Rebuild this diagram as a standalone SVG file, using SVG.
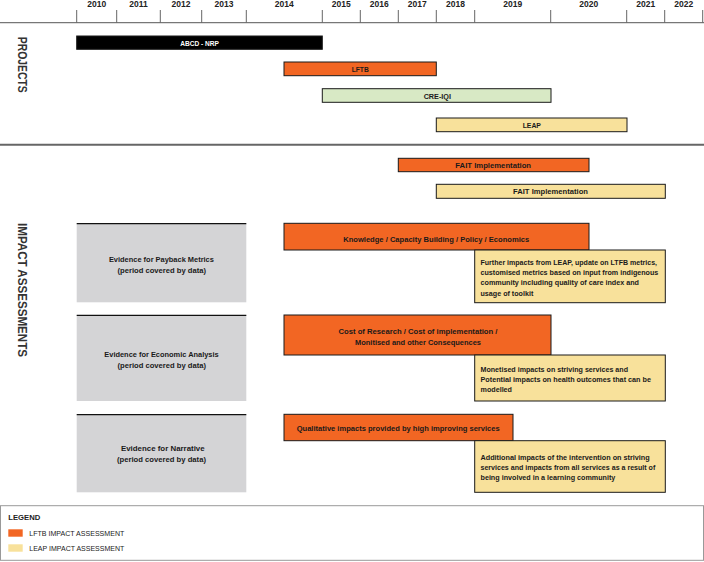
<svg xmlns="http://www.w3.org/2000/svg" width="704" height="562" viewBox="0 0 704 562">
<style>
text{font-family:"Liberation Sans",Arial,sans-serif;}
.yr{font-size:8.5px;font-weight:bold;fill:#222;text-anchor:middle;}
.tick{stroke:#666;stroke-width:1;}
.bar{stroke:#1a1a1a;stroke-width:1;}
.or{fill:#F26623;}
.ye{fill:#F8E19B;}
.gr{fill:#D8E9C5;}
.bk{fill:#000;}
.gy{fill:#D4D4D6;}
.bt{font-size:8px;font-weight:bold;fill:#1a1a1a;}
.c{text-anchor:middle;}
.side{font-size:13.5px;font-weight:bold;fill:#333;text-anchor:middle;}
.lg{font-size:7.3px;fill:#222;}
</style>
<rect x="0" y="0" width="704" height="562" fill="#fff"/>
<g id="axis">
<line x1="0" y1="22.7" x2="704" y2="22.7" stroke="#777" stroke-width="1.3"/>
<line class="tick" x1="76.7" y1="10" x2="76.7" y2="22.7"/>
<line class="tick" x1="116.7" y1="10" x2="116.7" y2="22.7"/>
<line class="tick" x1="160.3" y1="10" x2="160.3" y2="22.7"/>
<line class="tick" x1="201.7" y1="10" x2="201.7" y2="22.7"/>
<line class="tick" x1="246.3" y1="10" x2="246.3" y2="22.7"/>
<line class="tick" x1="322.3" y1="10" x2="322.3" y2="22.7"/>
<line class="tick" x1="360.3" y1="10" x2="360.3" y2="22.7"/>
<line class="tick" x1="398.3" y1="10" x2="398.3" y2="22.7"/>
<line class="tick" x1="436.3" y1="10" x2="436.3" y2="22.7"/>
<line class="tick" x1="474.7" y1="10" x2="474.7" y2="22.7"/>
<line class="tick" x1="550.7" y1="10" x2="550.7" y2="22.7"/>
<line class="tick" x1="626.7" y1="10" x2="626.7" y2="22.7"/>
<line class="tick" x1="664.7" y1="10" x2="664.7" y2="22.7"/>
<line class="tick" x1="702.7" y1="10" x2="702.7" y2="22.7"/>
<text class="yr" x="96.7" y="7">2010</text>
<text class="yr" x="138.5" y="7">2011</text>
<text class="yr" x="181" y="7">2012</text>
<text class="yr" x="224" y="7">2013</text>
<text class="yr" x="284.3" y="7">2014</text>
<text class="yr" x="341.3" y="7">2015</text>
<text class="yr" x="379.3" y="7">2016</text>
<text class="yr" x="417.3" y="7">2017</text>
<text class="yr" x="455.5" y="7">2018</text>
<text class="yr" x="512.7" y="7">2019</text>
<text class="yr" x="588.7" y="7">2020</text>
<text class="yr" x="645.7" y="7">2021</text>
<text class="yr" x="683.7" y="7">2022</text>
</g>
<line x1="0" y1="144.7" x2="704" y2="144.7" stroke="#666" stroke-width="2"/>
<g id="label-projects">
<text class="side" transform="translate(23,64.7) rotate(90)" x="0" y="4.8" textLength="56" lengthAdjust="spacingAndGlyphs">PROJECTS</text>
</g>
<g id="label-impact">
<text class="side" transform="translate(23,290) rotate(90)" x="0" y="4.8" textLength="134" lengthAdjust="spacingAndGlyphs">IMPACT ASSESSMENTS</text>
</g>
<g id="abcd-nrp">
<rect class="bar bk" x="76.7" y="36" width="245.6" height="13.3"/>
<text class="bt c" x="199.6" y="45.6" style="fill:#fff" textLength="38.7" lengthAdjust="spacingAndGlyphs">ABCD - NRP</text>
</g>
<g id="lftb">
<rect class="bar or" x="284" y="62" width="152.3" height="13.7"/>
<text class="bt c" x="360.2" y="71.8" textLength="17" lengthAdjust="spacingAndGlyphs">LFTB</text>
</g>
<g id="cre-iqi">
<rect class="bar gr" x="322.3" y="88.7" width="228.7" height="13.6"/>
<text class="bt c" x="437.3" y="98.5" textLength="27.3" lengthAdjust="spacingAndGlyphs">CRE-IQI</text>
</g>
<g id="leap">
<rect class="bar ye" x="436.3" y="118" width="190.7" height="13.7"/>
<text class="bt c" x="531.8" y="127.8" textLength="18.3" lengthAdjust="spacingAndGlyphs">LEAP</text>
</g>
<g id="fait-lftb">
<rect class="bar or" x="398.3" y="158.3" width="190.7" height="13.4"/>
<text class="bt c" x="493.2" y="168" textLength="75.7" lengthAdjust="spacingAndGlyphs">FAIT Implementation</text>
</g>
<g id="fait-leap">
<rect class="bar ye" x="436.3" y="184.3" width="229" height="14"/>
<text class="bt c" x="550.5" y="194.2" textLength="75" lengthAdjust="spacingAndGlyphs">FAIT Implementation</text>
</g>
<g id="evidence-payback">
<rect class="gy" x="76.7" y="223.3" width="169.6" height="79"/>
<line x1="76.7" y1="223.6" x2="246.3" y2="223.6" stroke="#111" stroke-width="1.2"/>
<text class="bt c" x="161.4" y="261.8" textLength="105" lengthAdjust="spacingAndGlyphs">Evidence for Payback Metrics</text>
<text class="bt c" x="161.8" y="272.8" textLength="88.5" lengthAdjust="spacingAndGlyphs">(period covered by data)</text>
</g>
<g id="evidence-economic">
<rect class="gy" x="76.7" y="315" width="169.6" height="86"/>
<line x1="76.7" y1="315.3" x2="246.3" y2="315.3" stroke="#111" stroke-width="1.2"/>
<text class="bt c" x="161.5" y="356.8" textLength="114.4" lengthAdjust="spacingAndGlyphs">Evidence for Economic Analysis</text>
<text class="bt c" x="161.8" y="368" textLength="88.5" lengthAdjust="spacingAndGlyphs">(period covered by data)</text>
</g>
<g id="evidence-narrative">
<rect class="gy" x="76.7" y="414.3" width="169.6" height="78"/>
<line x1="76.7" y1="414.6" x2="246.3" y2="414.6" stroke="#111" stroke-width="1.2"/>
<text class="bt c" x="162.8" y="450.5" textLength="83.7" lengthAdjust="spacingAndGlyphs">Evidence for Narrative</text>
<text class="bt c" x="161.5" y="461.8" textLength="89" lengthAdjust="spacingAndGlyphs">(period covered by data)</text>
</g>
<g id="lftb-payback">
<rect class="bar or" x="284" y="223.3" width="305" height="26.7"/>
<text class="bt c" x="436.2" y="241.6" textLength="186" lengthAdjust="spacingAndGlyphs">Knowledge / Capacity Building / Policy / Economics</text>
</g>
<g id="leap-payback">
<rect class="bar ye" x="474.7" y="250" width="190.6" height="52.7"/>
<text class="bt" x="480.5" y="264.6" textLength="176.5" lengthAdjust="spacingAndGlyphs">Further impacts from LEAP, update on LTFB metrics,</text>
<text class="bt" x="480.5" y="274.9" textLength="177.8" lengthAdjust="spacingAndGlyphs">customised metrics based on input from indigenous</text>
<text class="bt" x="480.5" y="285.2" textLength="158.5" lengthAdjust="spacingAndGlyphs">community including quality of care index and</text>
<text class="bt" x="480.5" y="295.6" textLength="52.8" lengthAdjust="spacingAndGlyphs">usage of toolkit</text>
</g>
<g id="lftb-economic">
<rect class="bar or" x="284" y="315" width="267" height="40"/>
<text class="bt c" x="418" y="333.6" textLength="159" lengthAdjust="spacingAndGlyphs">Cost of Research / Cost of implementation /</text>
<text class="bt c" x="418" y="344.6" textLength="126" lengthAdjust="spacingAndGlyphs">Monitised and other Consequences</text>
</g>
<g id="leap-economic">
<rect class="bar ye" x="474.7" y="355" width="190.6" height="46"/>
<text class="bt" x="480.5" y="371.9" textLength="147.5" lengthAdjust="spacingAndGlyphs">Monetised impacts on striving services and</text>
<text class="bt" x="480.5" y="382.1" textLength="170.5" lengthAdjust="spacingAndGlyphs">Potential impacts on health outcomes that can be</text>
<text class="bt" x="480.5" y="392.2" textLength="31.5" lengthAdjust="spacingAndGlyphs">modelled</text>
</g>
<g id="lftb-narrative">
<rect class="bar or" x="284" y="414.3" width="229" height="26.4"/>
<text class="bt c" x="398.2" y="431.2" textLength="203" lengthAdjust="spacingAndGlyphs">Qualitative impacts provided by high improving services</text>
</g>
<g id="leap-narrative">
<rect class="bar ye" x="474.7" y="440.7" width="190.6" height="51.6"/>
<text class="bt" x="480.5" y="459.6" textLength="169.2" lengthAdjust="spacingAndGlyphs">Additional impacts of the intervention on striving</text>
<text class="bt" x="480.5" y="469.8" textLength="174.8" lengthAdjust="spacingAndGlyphs">services and impacts from all services as a result of</text>
<text class="bt" x="480.5" y="480.2" textLength="134.8" lengthAdjust="spacingAndGlyphs">being involved in a learning community</text>
</g>
<g id="connectors"></g>
<g id="legend">
<rect x="0.5" y="505.7" width="703" height="54.6" fill="#fff" stroke="#999" stroke-width="1"/>
<text x="8.3" y="520.4" style="font-size:8px;font-weight:bold;fill:#222" textLength="32" lengthAdjust="spacingAndGlyphs">LEGEND</text>
<rect class="or" x="8.3" y="529.3" width="14.4" height="7.4"/>
<text class="lg" x="29.3" y="535.8" textLength="95" lengthAdjust="spacingAndGlyphs">LFTB IMPACT ASSESSMENT</text>
<rect class="ye" x="8.3" y="544.3" width="14.4" height="7.4"/>
<text class="lg" x="29.3" y="550.8" textLength="95" lengthAdjust="spacingAndGlyphs">LEAP IMPACT ASSESSMENT</text>
</g>
</svg>
